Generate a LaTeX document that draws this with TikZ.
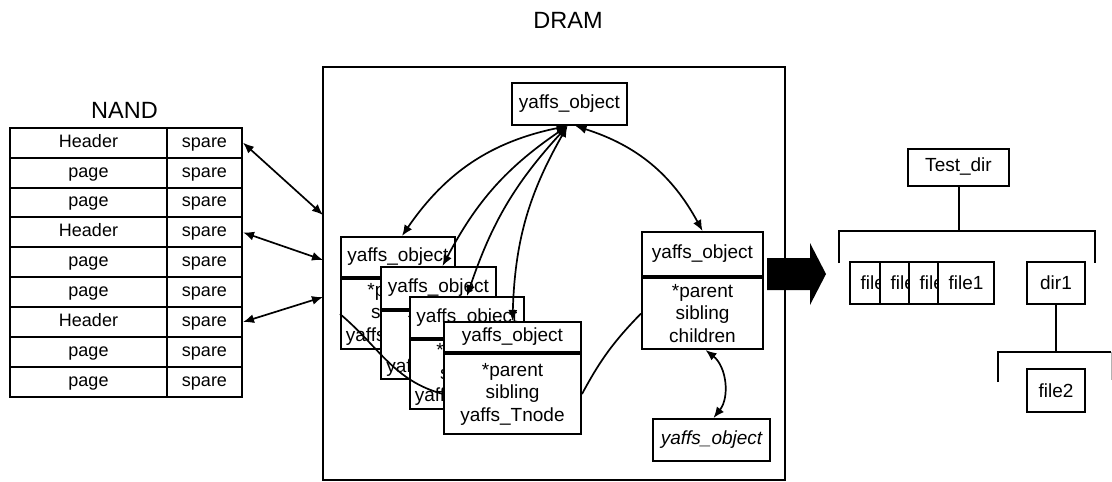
\documentclass[tikz,border=0pt]{standalone}
\usepackage{fontspec}
\setmainfont{Liberation Sans}
\usetikzlibrary{arrows.meta,positioning}
\tikzset{
    txt/.style={font=\fontsize{18}{22.5}\selectfont},
    cell/.style={txt,draw,line width=2pt,minimum height=29.9pt,inner sep=0pt,text height=13pt,text depth=4pt},
    obj/.style={txt,draw,fill=white,line width=2pt,inner sep=0pt,align=center,font=\fontsize{19}{22.5}\selectfont},
    link/.style={line width=1.7pt,{Latex[length=11pt,width=9pt]}-{Latex[length=11pt,width=9pt]}},
    tree/.style={line width=2pt}
}

\begin{document}
\begin{tikzpicture}[x=1pt,y=-1pt]
                \useasboundingbox (0,0) rectangle (1112,482);
                \node[txt,font=\fontsize{23.5}{26}\selectfont] (nandlbl) at (124.5,110) {NAND};
                \node[txt,font=\fontsize{23.5}{26}\selectfont] (dramlbl) at (568,20) {DRAM};
                \foreach \lbl [count=\i] in {Header,page,page,Header,page,page,Header,page,page} {
                    \node[cell,minimum width=157pt] (pg\i) at (88.5,127.7+29.9*\i-14.95) {\lbl};
                    \node[cell,minimum width=75pt] (sp\i) at (204.5,127.7+29.9*\i-14.95) {spare};
                }
                \node[draw,line width=2pt,minimum width=462pt,minimum height=413pt,inner sep=0pt] (dram) at (554,273.5) {};
                \coordinate (d1) at (323,215);
                \coordinate (d2) at (323,260);
                \coordinate (d3) at (323,297);
                \draw[link] (sp1.east) -- (d1);
                \draw[link] (sp4.east) -- (d2);
                \draw[link] (sp7.east) -- (d3);
                \node[obj,minimum width=115pt,minimum height=42pt] (top) at (569.5,104) {yaffs\_object};
                \node[obj,minimum width=114pt,minimum height=40pt] (o1) at (398,257) {yaffs\_object};
                \node[obj,minimum width=114pt,minimum height=70pt,below=0pt of o1] (o1b) {*parent\\sibling\\yaffs\_Tnode};
                \node[obj,minimum width=115pt,minimum height=42pt] (o2) at (438.5,288) {yaffs\_object};
                \node[obj,minimum width=115pt,minimum height=68pt,below=0pt of o2] (o2b) {*parent\\sibling\\yaffs\_Tnode};
                \node[obj,minimum width=114pt,minimum height=41pt] (o3) at (467,317.5) {yaffs\_object};
                \node[obj,minimum width=114pt,minimum height=69pt,below=0pt of o3] (o3b) {*parent\\sibling\\yaffs\_Tnode};
                \node[obj,minimum width=137pt,minimum height=30pt] (o4) at (512.5,337) {yaffs\_object};
                \node[obj,minimum width=137pt,minimum height=80pt,below=0pt of o4] (o4b) {*parent\\sibling\\yaffs\_Tnode};
                \draw[line width=1.7pt] (o1b.west) to[out=-40,in=165] (o4b.west);
                \node[obj,minimum width=121pt,minimum height=44pt] (oc) at (702.5,254) {yaffs\_object};
                \node[obj,minimum width=121pt,minimum height=71pt,below=0pt of oc] (ocb) {*parent\\sibling\\children};
                \node[obj,minimum width=117pt,minimum height=42pt,font=\fontsize{19}{22.5}\selectfont\itshape] (leaf) at (711.5,440) {yaffs\_object};
                \draw[link] ([xshift=-2pt]top.south) to[bend right=22] ([xshift=4pt]o1.north);
                \draw[link] ([xshift=-2pt]top.south) to[bend right=14] ([xshift=4pt]o2.north);
                \draw[link] ([xshift=-2pt]top.south) to[bend right=12] (o3.north);
                \draw[link] ([xshift=-2pt]top.south) to[bend right=14] (o4.north);
                \draw[link] ([xshift=6pt]top.south) to[bend left=22] (oc.north);
                \draw[link] ([xshift=3pt]ocb.south) to[bend left=45] ([xshift=2pt]leaf.north);
                \draw[line width=1.7pt] (o4b.east) to[bend left=8] (ocb.west);
                \fill (767,258) -- (810,258) -- (810,243) -- (826,274) -- (810,305) -- (810,290) -- (767,290) -- cycle;
                \draw[line width=2pt] (785,67) -- (785,480);
                \node[obj,minimum width=101pt,minimum height=37pt] (testdir) at (958.5,167) {Test\_dir};
                \node[obj,minimum width=56pt,minimum height=42pt] (f4) at (878,283) {file4};
                \node[obj,minimum width=56pt,minimum height=42pt] (f3) at (908,283) {file3};
                \node[obj,minimum width=56pt,minimum height=42pt] (f2) at (937,283) {file2};
                \node[obj,minimum width=56pt,minimum height=42pt] (f1) at (966,283) {file1};
                \node[obj,minimum width=58pt,minimum height=42pt] (dir) at (1056,283) {dir1};
                \node[obj,minimum width=58pt,minimum height=43pt] (sub) at (1056,390.5) {file2};
                \coordinate (bl) at (839,263);
                \coordinate (br) at (1095,263);
                \coordinate (sl) at (998,382);
                \coordinate (sr) at (1111,352);
                \draw[tree] (testdir.south) -- (testdir.south |- 0,231);
                \draw[tree] (bl) -- ++(0,-32) -| (br);
                \draw[tree] (dir.south) -- (dir.south |- sr);
                \draw[tree] (sl) |- (sr);
                \draw[gray!60,line width=0.8pt] (sr) -- ++(0,28);
            \end{tikzpicture}
\end{document}
